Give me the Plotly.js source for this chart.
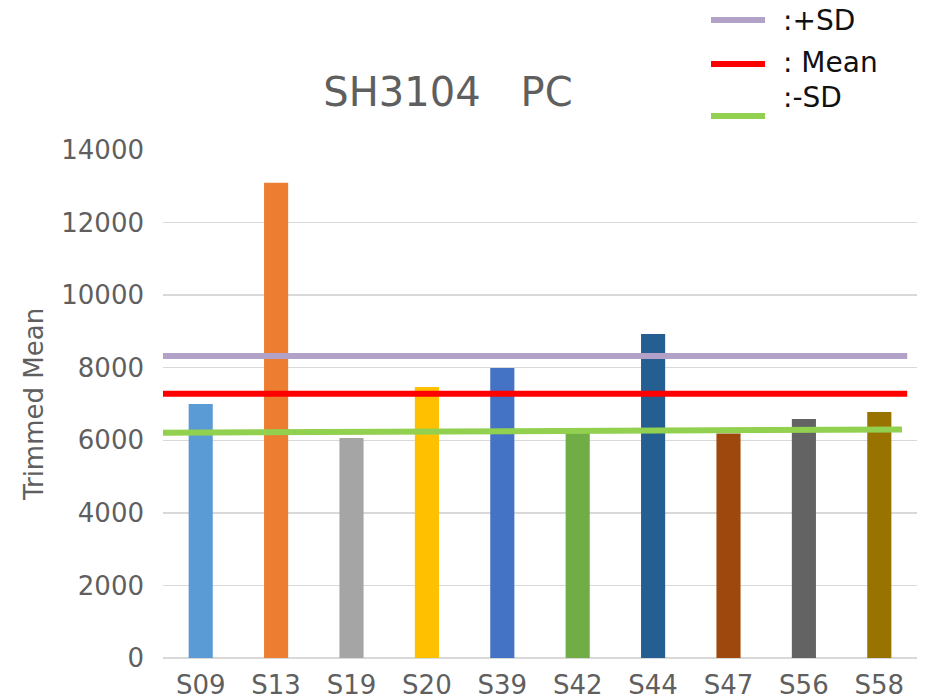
<!DOCTYPE html>
<html><head><meta charset="utf-8">
<script src="https://cdn.plot.ly/plotly-3.0.1.min.js"></script>
<style>body{margin:0;padding:0;background:#fff}#chart{width:928px;height:699px}</style>
</head><body><div id="chart"></div>
<script>
const categories = ["S09","S13","S19","S20","S39","S42","S44","S47","S56","S58"];
const values = [7000, 13100, 6060, 7470, 7990, 6200, 8930, 6190, 6590, 6780];
const barColors = ["#5B9BD5","#ED7D31","#A5A5A5","#FFC000","#4472C4","#70AD47","#255E91","#9E480E","#636363","#997300"];
const refNames = [":+SD", ": Mean", ":-SD"];
const refStart = [8320, 7280, 6210];
const refEnd = [8320, 7280, 6300];
const refColors = ["#B3A2C7", "#FF0000", "#92D050"];
const yTicks = [0, 2000, 4000, 6000, 8000, 10000, 12000, 14000];

const font = "DejaVu Sans, Liberation Sans, sans-serif";
const grey = "#5f5f5f";

const shapes = [];
const annotations = [];
const refXEnd = [0.987, 0.987, 0.98];
const legLineY = [20, 64, 116];
const legTextY = [20, 62, 98];
for (let i = 0; i < refNames.length; i++) {
  shapes.push({type:"line", xref:"paper", yref:"y", x0:0, x1:refXEnd[i], y0:refStart[i], y1:refEnd[i],
    line:{color:refColors[i], width:6}, layer:"above"});
  shapes.push({type:"line", xref:"paper", yref:"paper", x0:(711-163)/754, x1:(765-163)/754,
    y0:1 + (150 - legLineY[i]) / 508, y1:1 + (150 - legLineY[i]) / 508,
    line:{color:refColors[i], width:6}});
  annotations.push({xref:"paper", yref:"paper", x:(781-163)/754, y:1 + (150 - legTextY[i]) / 508,
    xanchor:"left", yanchor:"middle", text:refNames[i], showarrow:false,
    font:{family:font, size:28, color:"#111"}});
}

const data = [{
  type:"bar", x:categories, y:values, marker:{color:barColors}, hoverinfo:"x+y"
}];

const layout = {
  width:928, height:699,
  margin:{l:163, r:11, t:150, b:41},
  paper_bgcolor:"#fff", plot_bgcolor:"#fff",
  showlegend:false,
  bargap:0.68,
  title:{text:"SH3104\u3000PC", x:448/928, xanchor:"center", y:1-92/699, yanchor:"middle",
    font:{family:font, size:40, color:grey}},
  xaxis:{type:"category", showgrid:false, zeroline:false, showline:false, ticks:"",
    ticklabelstandoff:9,
    tickfont:{family:font, size:26, color:grey}},
  yaxis:{range:[0,14000], tickvals:yTicks, ticktext:yTicks.map(String),
    showgrid:true, gridcolor:"#D9D9D9", gridwidth:1.5, zeroline:true, zerolinecolor:"#D9D9D9", zerolinewidth:1.5,
    showline:false, ticks:"", ticklabelstandoff:18,
    tickfont:{family:font, size:26, color:grey},
    title:{text:"Trimmed Mean", font:{family:font, size:26, color:grey}, standoff:10}},
  shapes:shapes, annotations:annotations
};
Plotly.newPlot("chart", data, layout, {staticPlot:true});
</script></body></html>
